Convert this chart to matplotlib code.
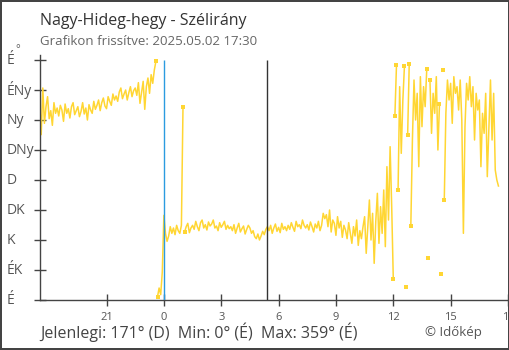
import numpy as np
import matplotlib
matplotlib.use('Agg')
import matplotlib.pyplot as plt
from matplotlib import transforms

plt.rcParams['font.family'] = ['Open Sans', 'DejaVu Sans']

#------------------------------------------------------------------------------
# Data: wind direction (deg), 5 minute steps from 17:30 (previous day)
#------------------------------------------------------------------------------
start_hour = -6.5
step_min = 5
dir_rows = [
    [300, 248, 318, 265, 290, 305, 272, 284, 262, 296, 280, 288],
    [276, 292, 285, 268, 294, 280, 287, 273, 290, 296, 278, 284],
    [290, 275, 283, 296, 279, 288, 270, 293, 285, 280, 298, 286],
    [292, 300, 284, 296, 303, 291, 287, 305, 298, 292, 309, 300],
    [306, 298, 312, 318, 302, 309, 315, 300, 311, 320, 305, 314],
    [318, 307, 326, 295, 312, 328, 286, 320, 333, 310, 338, 325],
    [345, 358, 5, 18, 8, 42, 127, 100, 88, 96, 110, 100],
    [108, 98, 112, 104, 100, 112, 290, 102, 110, 115, 101, 108],
    [112, 106, 118, 110, 104, 116, 120, 108, 113, 105, 117, 111],
    [114, 120, 108, 111, 104, 116, 109, 113, 118, 106, 112, 107],
    [110, 104, 113, 100, 108, 115, 102, 107, 111, 99, 106, 112],
    [108, 100, 104, 95, 92, 99, 90, 96, 103, 98, 106, 110],
    [104, 112, 100, 108, 114, 103, 109, 101, 115, 106, 110, 104],
    [112, 106, 116, 109, 103, 118, 110, 113, 107, 120, 112, 108],
    [113, 105, 117, 110, 102, 114, 108, 118, 104, 112, 130, 122],
    [128, 110, 135, 102, 120, 115, 97, 125, 108, 118, 94, 112],
    [105, 92, 116, 100, 85, 110, 96, 120, 82, 104, 92, 110],
    [125, 70, 110, 150, 90, 130, 55, 118, 160, 85, 140, 100],
    [165, 80, 200, 120, 230, 140, 31, 276, 352, 165, 320, 220],
    [300, 351, 19, 247, 354, 111, 240, 330, 270, 310, 200, 335],
    [260, 320, 290, 346, 63, 330, 250, 310, 280, 335, 225, 294],
    [39, 345, 150, 280, 330, 300, 325, 265, 335, 310, 320, 285],
    [330, 270, 100, 260, 325, 300, 335, 290, 320, 240, 310, 285],
    [300, 200, 280, 250, 310, 185, 260, 330, 240, 310, 195, 180],
    [171],
]
dir_labels = ['É', 'ÉK', 'K', 'DK', 'D', 'DNy', 'Ny', 'ÉNy', 'É']
dir_ticks = [0, 45, 90, 135, 180, 225, 270, 315, 360]
hour_ticks = [-3, 0, 3, 6, 9, 12, 15, 18]
hour_labels = ['21', '0', '3', '6', '9', '12', '15', '18']
sunrise = 5.37

title = 'Nagy-Hideg-hegy - Szélirány'
subtitle = 'Grafikon frissítve: 2025.05.02 17:30'
summary = 'Jelenlegi: 171° (D)  Min: 0° (É)  Max: 359° (É)'
credit = '© Időkép'

yellow = '#ffd633'

#------------------------------------------------------------------------------
# Break the line where the direction wraps round north
#------------------------------------------------------------------------------
vals = np.array([v for row in dir_rows for v in row], dtype=float)
t = start_hour + np.arange(len(vals)) * step_min / 60.0
brk = np.abs(np.diff(vals)) > 180

xs, ys = [t[0]], [vals[0]]
for i in range(1, len(vals)):
    if brk[i - 1]:
        xs.append(np.nan)
        ys.append(np.nan)
    xs.append(t[i])
    ys.append(vals[i])

mark = np.zeros(len(vals), dtype=bool)
mark[1:] |= brk
mark[:-1] |= brk

#------------------------------------------------------------------------------
# Plot
#------------------------------------------------------------------------------
fig = plt.figure(figsize=(5.1, 3.5), dpi=100)
fig.patch.set_facecolor('white')
fig.patch.set_edgecolor('#444444')
fig.patch.set_linewidth(1.5)

ax = fig.add_axes([40 / 510, 50 / 350, 468 / 510, 245 / 350])
ax.plot(xs, ys, color=yellow, lw=1.1, zorder=2)
ax.plot(t[mark], vals[mark], 's', ms=3, mew=0, color=yellow, zorder=2)
ax.vlines(0, 0, 360, color='#2b9be0', lw=1, zorder=3)
ax.vlines(sunrise, 0, 360, color='#333333', lw=1, zorder=3)

ax.set_xlim(-6.48, 17.98)
ax.set_ylim(0, 367.5)
for s in ['top', 'right']:
    ax.spines[s].set_visible(False)
for s in ['left', 'bottom']:
    ax.spines[s].set_color('#444444')
    ax.spines[s].set_linewidth(1)

ax.set_xticks(hour_ticks)
ax.set_xticklabels(hour_labels, fontsize=8, color='#555555')
ax.set_yticks(dir_ticks)
ax.set_yticklabels([])
ax.tick_params(direction='inout', length=9, width=1, color='#444444', pad=4)

trans = transforms.blended_transform_factory(fig.transFigure, ax.transData)
for d, lab in zip(dir_ticks, dir_labels):
    ax.text(7 / 510, d, lab, transform=trans, ha='left', va='center',
            fontsize=10, color='#555555', clip_on=False)
fig.text(15 / 510, 1 - 50 / 350, '°', fontsize=8, color='#555555',
         ha='left', va='center')

fig.text(40 / 510, 1 - 25 / 350, title, fontsize=11.5, color='#333333',
         ha='left', va='baseline')
fig.text(40 / 510, 1 - 45 / 350, subtitle, fontsize=9.5, color='#666666',
         ha='left', va='baseline')
fig.text(40 / 510, 1 - 338 / 350, summary, fontsize=11.5, color='#444444',
         ha='left', va='baseline')
fig.text(425 / 510, 1 - 336 / 350, credit, fontsize=9.5, color='#555555',
         ha='left', va='baseline')

fig.savefig('out.png', dpi=100, facecolor=fig.get_facecolor(),
            edgecolor=fig.get_edgecolor())
